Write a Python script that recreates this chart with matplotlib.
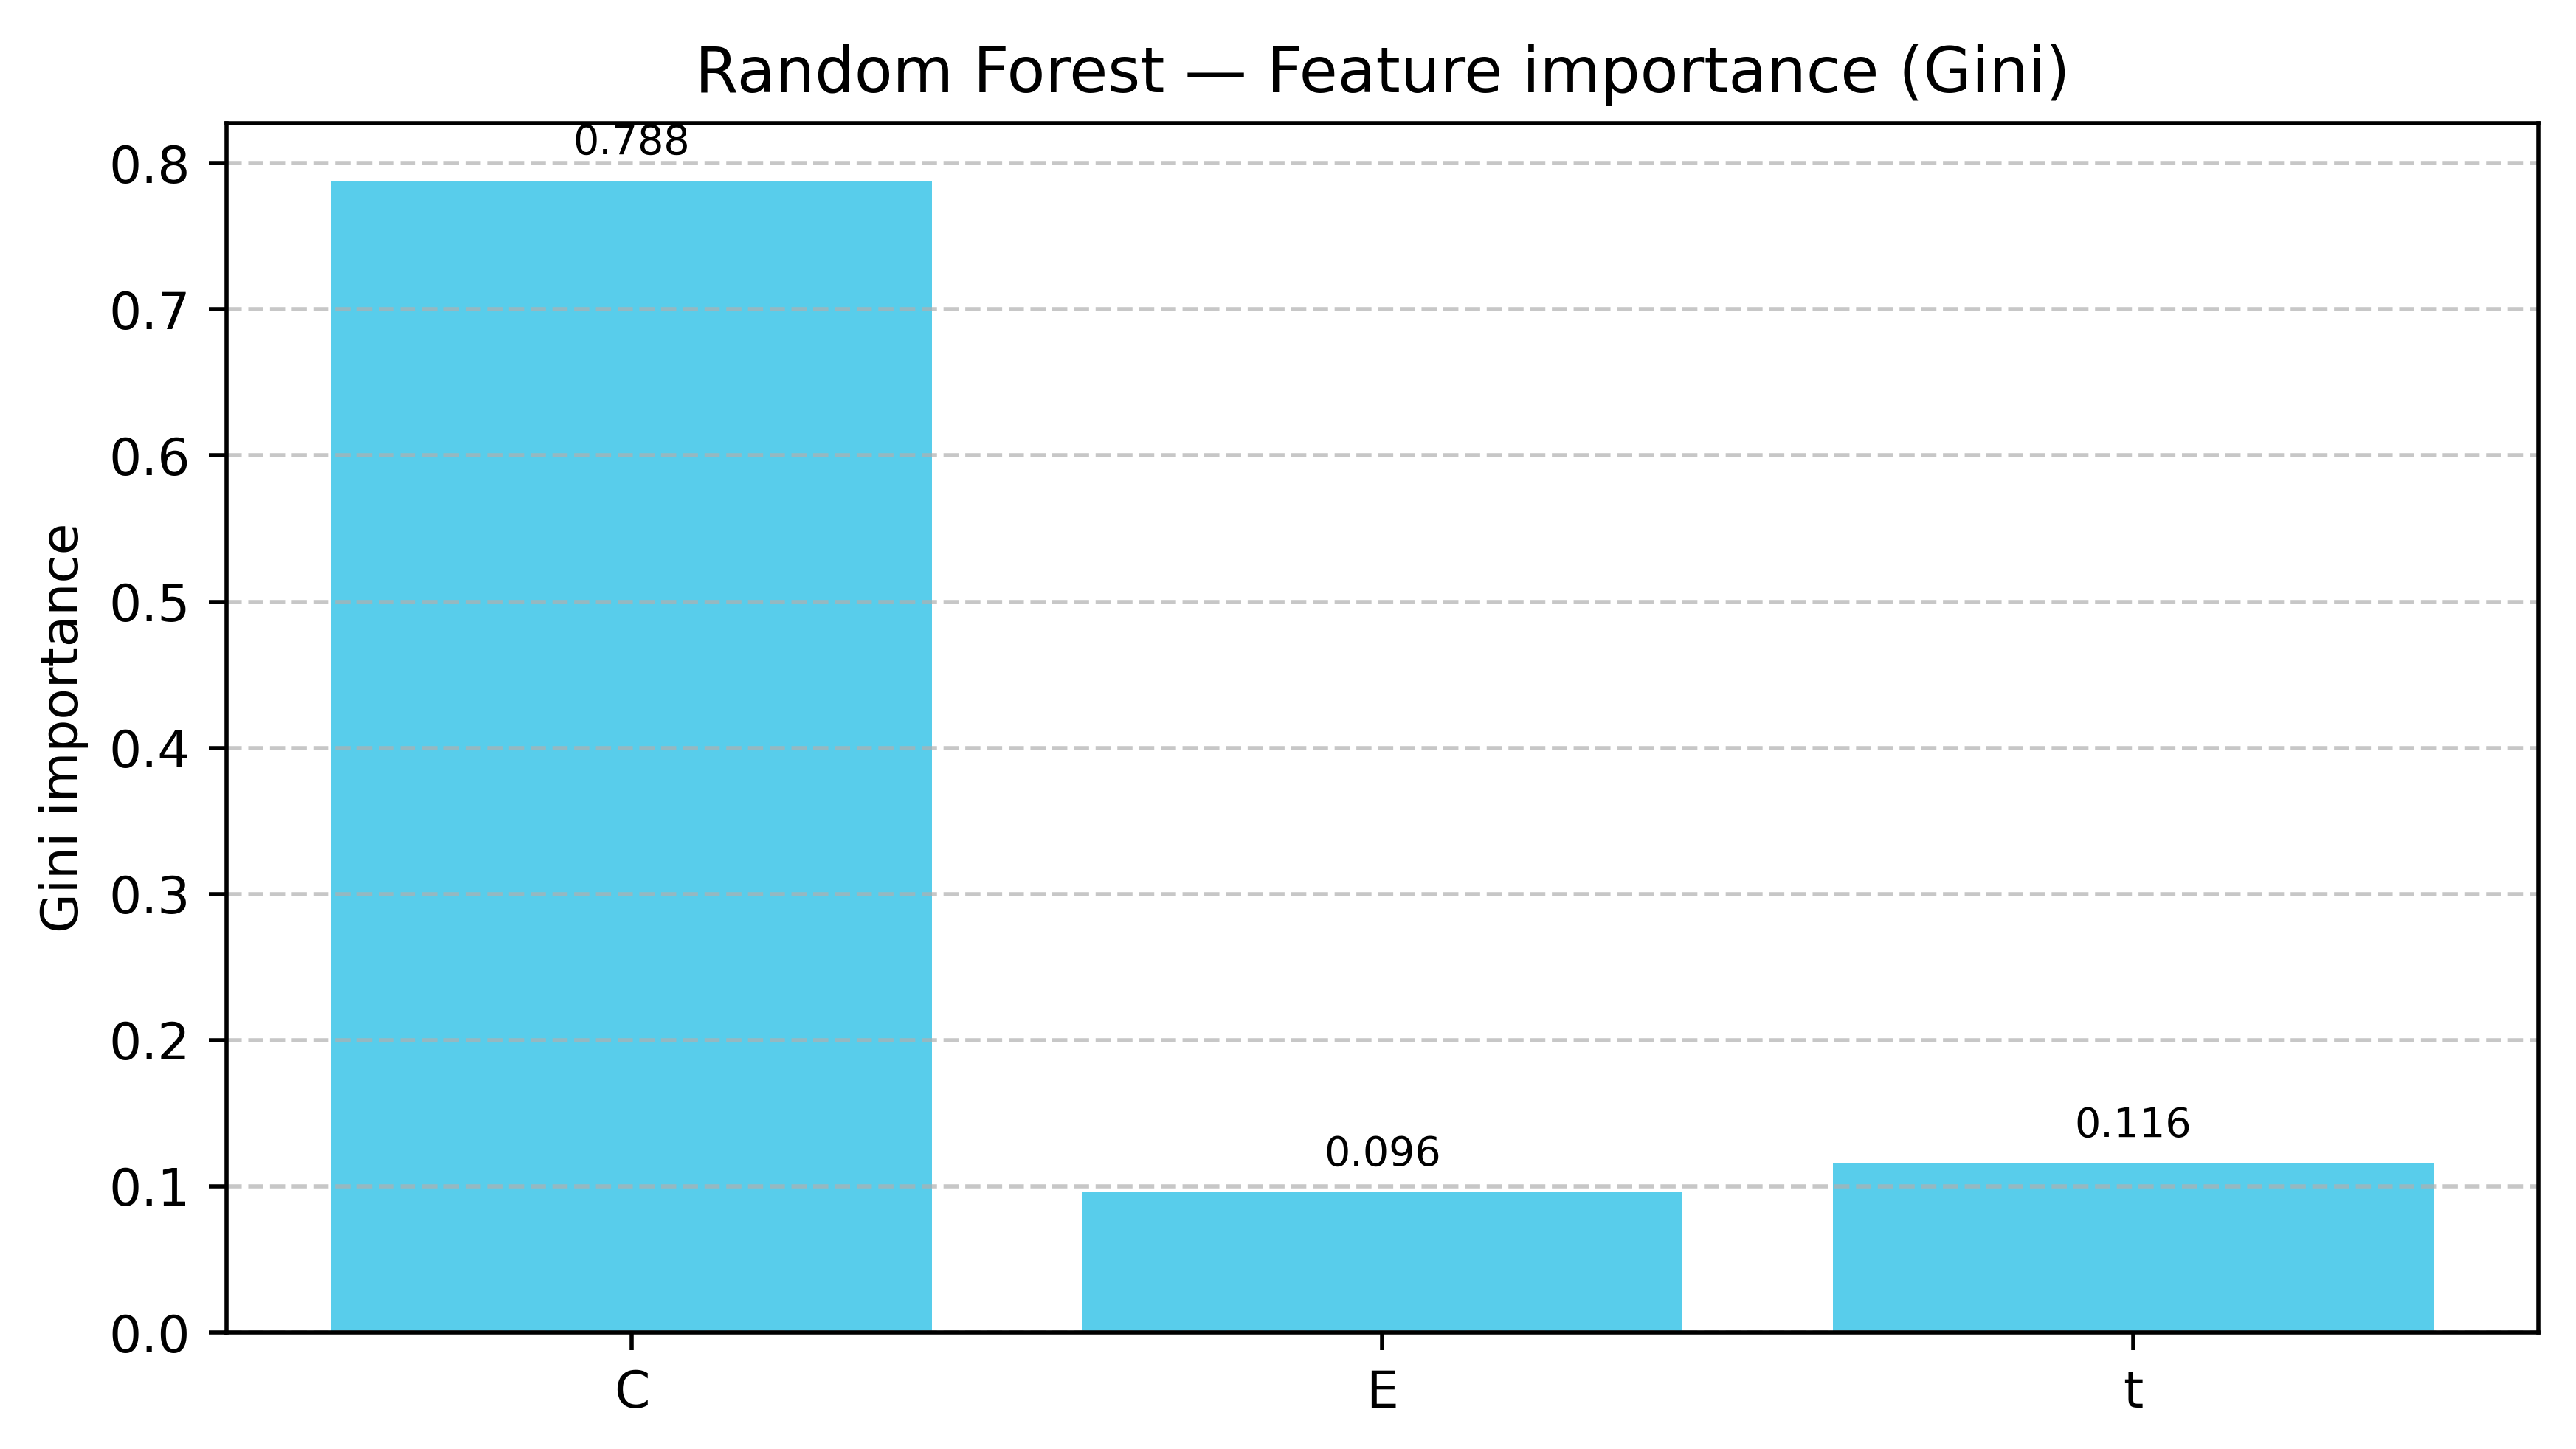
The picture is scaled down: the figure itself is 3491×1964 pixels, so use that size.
import matplotlib
matplotlib.use("Agg")
import matplotlib.pyplot as plt
import numpy as np


features = ["C", "E", "t"]
importance = [0.788, 0.096, 0.116]

DPI = 500
BAR_COLOR = "#58CDEB"


def main():
    fig = plt.figure(figsize=(3491 / DPI, 1964 / DPI), dpi=DPI)
    ax = fig.add_axes([0.0879, 0.0804, 0.8975, 0.8346])

    x = np.arange(len(features))
    ax.bar(x, importance, width=0.8, color=BAR_COLOR)
    for xi, val in zip(x, importance):
        ax.text(xi, val + 0.012, f"{val:.3f}", ha="center", va="bottom", fontsize=8)

    ax.set_xticks(x)
    ax.set_xticklabels(features, fontsize=10)
    ax.tick_params(axis="y", labelsize=10)
    ax.set_ylim(0, max(importance) * 1.05)
    ax.set_ylabel("Gini importance", fontsize=10)
    ax.set_title("Random Forest — Feature importance (Gini)", fontsize=12.2, pad=6)
    ax.grid(True, axis="y", linestyle="--", color="#b0b0b0", alpha=0.7, linewidth=0.8)

    fig.savefig("out.png", dpi=DPI)
    plt.close(fig)


if __name__ == "__main__":
    main()
